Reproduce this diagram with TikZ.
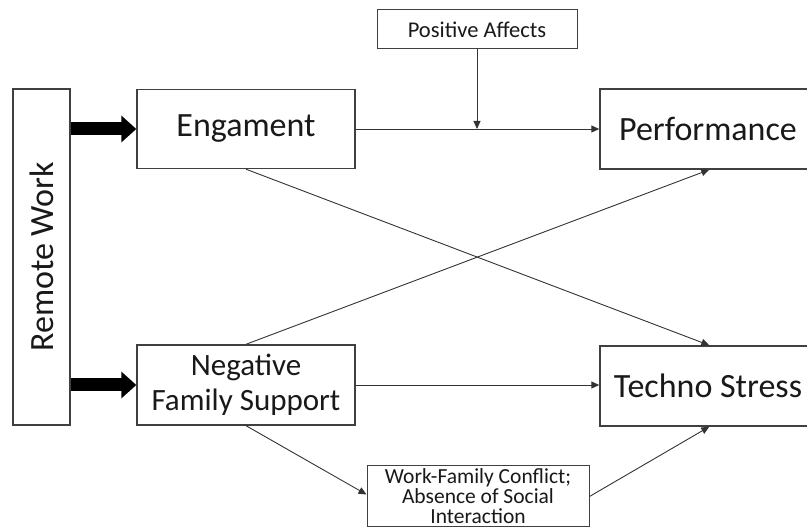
\documentclass[tikz,border=0pt]{standalone}
\usepackage{fontspec}
\setmainfont{Carlito}
\usetikzlibrary{arrows.meta,calc}
\tikzset{
  box/.style={draw=black!75,line width=1.4pt,fill=white,inner sep=0pt,align=center,text=black!90},
  big/.style={font=\fontsize{34}{38}\selectfont},
  mid/.style={font=\fontsize{31}{35}\selectfont},
  small/.style={font=\fontsize{22.5}{19.5}\selectfont},
  tiny/.style={font=\fontsize{21.5}{20}\selectfont},
  conn/.style={draw=black!80,line width=0.9pt,-{Triangle[length=8pt,width=7pt]}},
  fat/.style={draw=black,line width=13pt,-{Triangle[length=15pt,width=26pt]}}
}
\begin{document}
\begin{tikzpicture}[x=1pt,y=-1pt]
\useasboundingbox (0,0) rectangle (807,529);
\node[box,big,minimum width=57pt,minimum height=336pt] (rw) at (41.5,257) {};
\node[big,rotate=90,text=black!90] (rwt) at (rw.center) {Remote Work};
\node[box,big,minimum width=218pt,minimum height=79pt] (eng) at (246,129) {Engament};
\node[box,mid,minimum width=218pt,minimum height=80pt] (nfs) at (246,385) {Negative\\Family Support};
\node[box,small,minimum width=200pt,minimum height=39pt,line width=1pt] (pa) at (477,29.5) {Positive Affects};
\node[box,tiny,minimum width=222pt,minimum height=61pt,line width=1pt] (wf) at (478,496.5) {Work-Family Conflict;\\Absence of Social\\Interaction};
\node[box,big,minimum width=216pt,minimum height=80pt] (perf) at (708,129) {Performance};
\node[box,big,minimum width=216pt,minimum height=80pt] (ts) at (708,386) {Techno Stress};
\coordinate (perfb) at ($(perf.south west)+(110,0)$);
\coordinate (tst) at ($(ts.north west)+(110,0)$);
\coordinate (tsb) at ($(ts.south west)+(110,0)$);
\draw[fat] (rw.east |- eng.west) -- (eng.west);
\draw[fat] (rw.east |- nfs.west) -- (nfs.west);
\draw[conn] (eng.east) -- (perf.west);
\coordinate (mod) at (pa.south |- eng.east);
\draw[conn] (pa.south) -- (mod);
\draw[conn] (eng.south) -- (tst);
\draw[conn] (nfs.north) -- (perfb);
\draw[conn] (nfs.east) -- (nfs.east -| ts.west);
\draw[conn] (nfs.south) -- ($(wf.west)+(0,-2)$);
\draw[conn] (wf.east) -- (tsb);
\end{tikzpicture}
\end{document}
